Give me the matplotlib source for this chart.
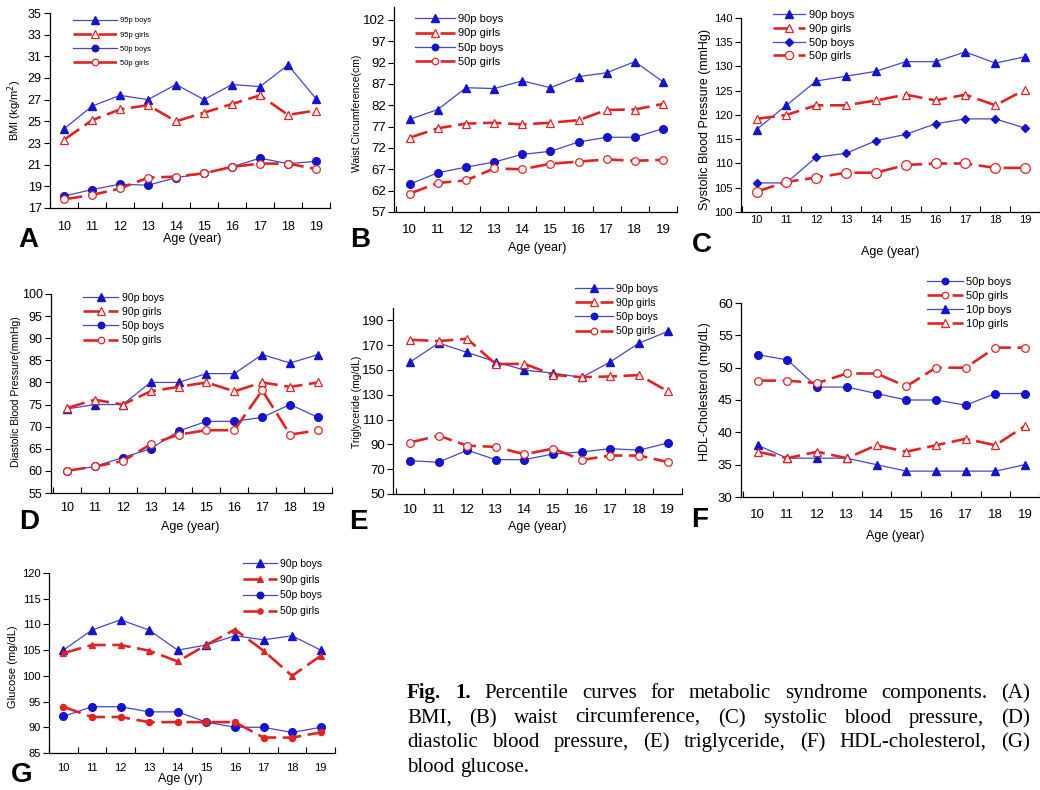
import matplotlib.pyplot as plt

plt.rcParams['font.family'] = 'Liberation Sans'

W, H = 1040, 790

ages = [10, 11, 12, 13, 14, 15, 16, 17, 18, 19]

# A - BMI
bmi_95_boys = [24.3, 26.4, 27.4, 27.0, 28.4, 27.0, 28.4, 28.2, 30.2, 27.1]
bmi_95_girls = [23.3, 25.1, 26.1, 26.5, 25.0, 25.8, 26.6, 27.4, 25.6, 26.0]
bmi_50_boys = [18.1, 18.7, 19.2, 19.1, 19.8, 20.2, 20.8, 21.6, 21.1, 21.3]
bmi_50_girls = [17.8, 18.2, 18.8, 19.8, 19.9, 20.2, 20.8, 21.1, 21.1, 20.6]
bmi_ticks = [17, 19, 21, 23, 25, 27, 29, 31, 33, 35]

# B - waist circumference
wc_90_boys = [78.7, 81.0, 86.1, 85.9, 87.7, 86.1, 88.7, 89.6, 92.2, 87.5]
wc_90_girls = [74.4, 76.6, 77.7, 77.9, 77.5, 77.9, 78.5, 80.9, 81.0, 82.3]
wc_50_boys = [63.5, 66.2, 67.5, 68.7, 70.5, 71.2, 73.4, 74.5, 74.5, 76.5]
wc_50_girls = [61.3, 63.8, 64.4, 67.2, 67.0, 68.3, 68.8, 69.3, 69.0, 69.2]
wc_ticks = [57, 62, 67, 72, 77, 82, 87, 92, 97, 102]

# C - systolic BP
sbp_90_boys = [117, 122, 127, 128, 129, 131, 131, 133, 130.7, 132]
sbp_90_girls = [119.2, 120, 122, 122, 123, 124.2, 123, 124.2, 122, 125.2]
sbp_50_boys = [106, 106, 111.3, 112.1, 114.7, 116, 118.2, 119.2, 119.2, 117.3]
sbp_50_girls = [104.2, 106.2, 107.1, 108.1, 108.1, 109.7, 110, 110, 109.1, 109.1]
sbp_ticks = [100, 105, 110, 115, 120, 125, 130, 135, 140]

# D - diastolic BP
dbp_90_boys = [74, 75, 75, 80, 80, 82, 82, 86.3, 84.4, 86.3]
dbp_90_girls = [74.2, 76.1, 75, 78, 79, 80, 78, 80, 79, 80]
dbp_50_boys = [60, 61, 63, 65, 69, 71.2, 71.2, 72.1, 75, 72.1]
dbp_50_girls = [60, 61, 62.2, 66, 68.2, 69.2, 69.2, 78.2, 68.2, 69.2]
dbp_ticks = [55, 60, 65, 70, 75, 80, 85, 90, 95, 100]

# E - triglyceride
tg_90_boys = [156.3, 171.7, 164.2, 156.6, 149.9, 147.5, 144, 156.6, 171.7, 181.1]
tg_90_girls = [174.4, 173.3, 175.2, 154.7, 155, 146.1, 144.2, 144.8, 145.9, 132.9]
tg_50_boys = [76.9, 75.6, 85.3, 77.7, 77.7, 82.3, 83.9, 86.6, 85.3, 91.2]
tg_50_girls = [91.5, 97.1, 89, 88, 82, 86.6, 77.5, 81, 81, 75.8]
tg_ticks = [50, 70, 90, 110, 130, 150, 170, 190]

# F - HDL cholesterol
hdl_50_boys = [52, 51.2, 47, 47, 46, 45, 45, 44.2, 46, 46]
hdl_50_girls = [48, 48, 47.6, 49.1, 49.1, 47.1, 50, 50, 53.1, 53.1]
hdl_10_boys = [38, 36, 36, 36, 35, 34, 34, 34, 34, 35]
hdl_10_girls = [37, 36, 37, 36, 38, 37, 38, 39, 38, 41]
hdl_ticks = [30, 35, 40, 45, 50, 55, 60]

# G - glucose
glu_90_boys = [105, 108.9, 110.9, 108.9, 105, 106, 107.8, 107, 107.8, 105]
glu_90_girls = [104.4, 106, 106, 104.9, 102.8, 106, 109, 104.9, 100, 103.9]
glu_50_boys = [92.1, 94, 94, 93, 93, 91, 90, 90, 89, 90]
glu_50_girls = [94, 92, 92, 91, 91, 91, 91, 88, 88, 89]
glu_ticks = [85, 90, 95, 100, 105, 110, 115, 120]

BLUE = '#1414c8'
BLUE_LINE = '#4646cc'
RED = '#e02424'
DASH = (0, (7, 2.5))

fig = plt.figure(figsize=(W / 100, H / 100), dpi=100)


def px(x, y):
    return x / W, 1 - y / H


def panel(l, t, r, b, xlim, ylim, yticks, tick_fs, xpad):
    ax = fig.add_axes([l / W, 1 - b / H, (r - l) / W, (b - t) / H])
    ax.set_xlim(*xlim)
    ax.set_ylim(*ylim)
    ax.set_yticks(yticks)
    ax.set_xticks(ages)
    ax.set_xticks([a - 0.5 for a in ages] + [ages[-1] + 0.5], minor=True)
    ax.tick_params(axis='x', which='major', length=0, pad=xpad, labelsize=tick_fs)
    ax.tick_params(axis='x', which='minor', direction='in', length=4, width=0.8)
    ax.tick_params(axis='y', which='major', direction='out', length=4, width=0.8,
                   pad=2, labelsize=tick_fs)
    for s in ['top', 'right']:
        ax.spines[s].set_visible(False)
    for s in ['left', 'bottom']:
        ax.spines[s].set_linewidth(0.9)
    return ax


def boys(ax, y, lab, mk, ms=6):
    ax.plot(ages, y, color=BLUE_LINE, lw=0.9, marker=mk, ms=ms, mfc=BLUE, mec=BLUE,
            label=lab, clip_on=False)


def girls(ax, y, lab, mk, ms=6, filled=False):
    ax.plot(ages, y, color=RED, lw=1.9, ls=DASH, marker=mk, ms=ms,
            mfc=RED if filled else 'white', mec=RED, mew=0.9, label=lab, clip_on=False)


def legend(ax, x, y, fs, hl, ls):
    ax.legend(loc='upper left', bbox_to_anchor=px(x, y), bbox_transform=fig.transFigure,
              frameon=False, fontsize=fs, handlelength=hl, handletextpad=0.3,
              labelspacing=ls, borderpad=0, borderaxespad=0, markerscale=0.85)


def labels(ylab, ylab_xy, ylab_fs, xlab, xlab_xy, letter, letter_xy):
    fig.text(*px(*ylab_xy), ylab, rotation=90, ha='center', va='center', fontsize=ylab_fs)
    fig.text(*px(*xlab_xy), xlab, ha='center', va='center', fontsize=9)
    fig.text(*px(*letter_xy), letter, ha='center', va='center', fontsize=20,
             weight='bold')


# A
ax = panel(50, 13, 330, 208, (9.5, 19.45), (17, 35), bmi_ticks, 9, 9)
boys(ax, bmi_95_boys, '95p boys', '^')
girls(ax, bmi_95_girls, '95p girls', '^')
boys(ax, bmi_50_boys, '50p boys', 'o', 5.5)
girls(ax, bmi_50_girls, '50p girls', 'o', 5.5)
legend(ax, 73, 17, 5.5, 5.8, 0.9)
labels('BMI (kg/m$^2$)', (15, 110), 8, 'Age (year)', (192, 239), 'A', (28, 240))

# B
ax = panel(394, 7, 677, 212, (9.44, 19.42), (57, 105), wc_ticks, 9.5, 8.5)
boys(ax, wc_90_boys, '90p boys', '^')
girls(ax, wc_90_girls, '90p girls', '^')
boys(ax, wc_50_boys, '50p boys', 'o', 5.5)
girls(ax, wc_50_girls, '50p girls', 'o', 5.5)
legend(ax, 415, 14, 8, 3.6, 0.4)
labels('Waist Circumference(cm)', (357, 113), 7.5, 'Age (year)', (537, 248), 'B', (360, 240))

# C
ax = panel(741, 18, 1040, 212, (9.48, 19.25), (100, 140), sbp_ticks, 8, 2)
boys(ax, sbp_90_boys, '90p boys', '^')
girls(ax, sbp_90_girls, '90p girls', '^')
boys(ax, sbp_50_boys, '50p boys', 'D', 4.5)
girls(ax, sbp_50_girls, '50p girls', 'o', 7)
legend(ax, 773, 10, 8, 2.9, 0.34)
labels('Systolic Blood Pressure (mmHg)', (705, 120), 9, 'Age (year)', (890, 252), 'C', (702, 245))

# D
ax = panel(51, 294, 332, 493, (9.43, 19.5), (55, 100), dbp_ticks, 9, 6.5)
boys(ax, dbp_90_boys, '90p boys', '^')
girls(ax, dbp_90_girls, '90p girls', '^')
boys(ax, dbp_50_boys, '50p boys', 'o', 5.5)
girls(ax, dbp_50_girls, '50p girls', 'o', 5.5)
legend(ax, 83, 293, 7.5, 3.4, 0.39)
labels('Diastolic Blood Pressure(mmHg)', (16, 392), 7.5, 'Age (year)', (190, 527), 'D', (29, 522))

# E
ax = panel(393, 308, 682, 494, (9.41, 19.49), (50, 200), tg_ticks, 9.5, 7)
boys(ax, tg_90_boys, '90p boys', '^')
girls(ax, tg_90_girls, '90p girls', '^')
boys(ax, tg_50_boys, '50p boys', 'o', 5.5)
girls(ax, tg_50_girls, '50p girls', 'o', 5.5)
legend(ax, 575, 284, 7.5, 3.6, 0.39)
labels('Triglyceride (mg/dL)', (357, 402), 7.5, 'Age (year)', (537, 527), 'E', (358, 522))

# F
ax = panel(741, 303, 1040, 497, (9.44, 19.33), (30, 60), hdl_ticks, 9.5, 9)
boys(ax, hdl_50_boys, '50p boys', 'o', 5.5)
girls(ax, hdl_50_girls, '50p girls', 'o', 5.5)
boys(ax, hdl_10_boys, '10p boys', '^')
girls(ax, hdl_10_girls, '10p girls', '^')
legend(ax, 927, 277, 8, 3.2, 0.37)
labels('HDL-Cholesterol (mg/dL)', (705, 392), 9, 'Age (year)', (895, 536), 'F', (700, 520))

# G
ax = panel(49, 573, 335, 753, (9.51, 19.45), (85, 120), glu_ticks, 8, 7)
boys(ax, glu_90_boys, '90p boys', '^')
girls(ax, glu_90_girls, '90p girls', '^', 5, filled=True)
boys(ax, glu_50_boys, '50p boys', 'o', 5.5)
girls(ax, glu_50_girls, '50p girls', 'o', 4.5, filled=True)
legend(ax, 243, 559, 7.5, 3.3, 0.55)
labels('Glucose (mg/dL)', (13, 667), 8, 'Age (yr)', (180, 779), 'G', (22, 775))

# caption, justified line by line
caption = [
    ([('Fig.', True), ('1.', True)] + [(w, False) for w in
      'Percentile curves for metabolic syndrome components. (A)'.split()], True),
    ([(w, False) for w in 'BMI, (B) waist circumference, (C) systolic blood pressure, (D)'.split()], True),
    ([(w, False) for w in 'diastolic blood pressure, (E) triglyceride, (F) HDL-cholesterol, (G)'.split()], True),
    ([(w, False) for w in 'blood glucose.'.split()], False),
]
cap_y = [698, 723, 747, 772]
x0, x1 = 407, 1030
renderer = fig.canvas.get_renderer()
for (words, just), yb in zip(caption, cap_y):
    texts = []
    widths = []
    for w, bold in words:
        t = fig.text(0, 1 - yb / H, w, fontsize=15, family='Liberation Serif',
                     weight='bold' if bold else 'normal', va='baseline')
        texts.append(t)
        widths.append(t.get_window_extent(renderer).width)
    if just:
        gap = (x1 - x0 - sum(widths)) / (len(words) - 1)
    else:
        gap = 6
    x = x0
    for t, wd in zip(texts, widths):
        t.set_x(x / W)
        x += wd + gap

fig.savefig('out.png', dpi=100)
